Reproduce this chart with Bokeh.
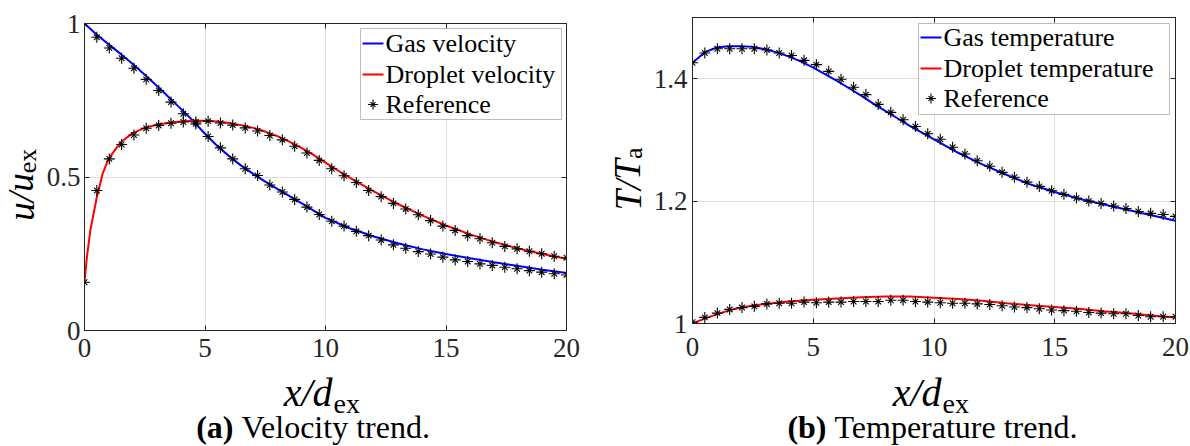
from bokeh.plotting import figure
from bokeh.models import (Range1d, FixedTicker, LinearAxis, Label, BoxAnnotation,
                          CustomLabelingPolicy)
from bokeh.layouts import row, column
from bokeh.embed import file_html
from bokeh.resources import INLINE

# ---------------- data ----------------
x_ref = [0.0, 0.51, 1.03, 1.54, 2.05, 2.56, 3.08, 3.59, 4.10, 4.62,
         5.13, 5.64, 6.15, 6.67, 7.18, 7.69, 8.21, 8.72, 9.23, 9.74,
         10.26, 10.77, 11.28, 11.79, 12.31, 12.82, 13.33, 13.85, 14.36, 14.87,
         15.38, 15.90, 16.41, 16.92, 17.44, 17.95, 18.46, 18.97, 19.49, 20.0]

u_gas_ref = [1.000, 0.955, 0.920, 0.887, 0.854, 0.818, 0.782, 0.744, 0.706, 0.673,
             0.632, 0.595, 0.559, 0.527, 0.505, 0.474, 0.451, 0.427, 0.402, 0.378,
             0.356, 0.340, 0.323, 0.309, 0.295, 0.279, 0.268, 0.257, 0.249, 0.239,
             0.230, 0.225, 0.217, 0.212, 0.206, 0.201, 0.195, 0.190, 0.185, 0.181]
u_drop_ref = [0.157, 0.456, 0.559, 0.606, 0.637, 0.659, 0.668, 0.675, 0.679, 0.679,
              0.682, 0.676, 0.669, 0.660, 0.650, 0.635, 0.621, 0.600, 0.578, 0.554,
              0.527, 0.504, 0.482, 0.456, 0.436, 0.414, 0.396, 0.377, 0.358, 0.340,
              0.326, 0.309, 0.299, 0.286, 0.274, 0.266, 0.258, 0.250, 0.242, 0.237]

x_u_gas = [0, 0.5, 1, 1.5, 2, 2.5, 3, 3.5, 4, 4.5, 5, 5.5, 6, 6.5, 7, 7.5, 8,
           9, 10, 11, 12, 13, 14, 15, 16, 17, 18, 19, 20]
u_gas = [1.000, 0.964, 0.932, 0.901, 0.868, 0.833, 0.797, 0.760, 0.722, 0.683,
         0.641, 0.602, 0.568, 0.537, 0.510, 0.485, 0.461, 0.415, 0.367, 0.333,
         0.306, 0.284, 0.265, 0.249, 0.235, 0.222, 0.210, 0.198, 0.187]

x_u_drop = [0, 0.1, 0.25, 0.5, 0.75, 1, 1.5, 2, 2.5, 3, 3.5, 4, 4.5, 5, 5.5, 6,
            6.5, 7, 7.5, 8, 8.5, 9, 9.5, 10, 10.5, 11, 12, 13, 14, 15, 16, 17,
            18, 19, 20]
u_drop = [0.157, 0.240, 0.330, 0.430, 0.510, 0.560, 0.613, 0.643, 0.660, 0.670,
          0.677, 0.681, 0.683, 0.683, 0.681, 0.676, 0.669, 0.660, 0.648, 0.633,
          0.615, 0.595, 0.572, 0.547, 0.522, 0.498, 0.453, 0.412, 0.375, 0.342,
          0.313, 0.288, 0.267, 0.249, 0.234]

T_gas_ref = [1.426, 1.442, 1.449, 1.449, 1.449, 1.449, 1.447, 1.442, 1.438, 1.430,
             1.423, 1.412, 1.399, 1.386, 1.374, 1.358, 1.345, 1.333, 1.322, 1.310,
             1.301, 1.288, 1.277, 1.266, 1.257, 1.247, 1.239, 1.231, 1.224, 1.217,
             1.211, 1.205, 1.200, 1.196, 1.192, 1.188, 1.183, 1.180, 1.178, 1.175]
T_drop_ref = [1.002, 1.010, 1.017, 1.023, 1.026, 1.028, 1.032, 1.033, 1.033, 1.035,
              1.034, 1.035, 1.035, 1.036, 1.036, 1.036, 1.038, 1.038, 1.036, 1.035,
              1.034, 1.033, 1.033, 1.032, 1.031, 1.029, 1.027, 1.026, 1.024, 1.022,
              1.021, 1.020, 1.018, 1.017, 1.016, 1.016, 1.013, 1.011, 1.011, 1.011]

x_T_gas = [0, 0.5, 1, 1.5, 2, 2.5, 3, 3.5, 4, 4.5, 5, 5.5, 6, 6.5, 7, 7.5, 8, 8.5,
           9, 10, 11, 12, 13, 14, 15, 16, 17, 18, 19, 20]
T_gas = [1.426, 1.443, 1.451, 1.453, 1.453, 1.452, 1.448, 1.443, 1.436, 1.428,
         1.418, 1.407, 1.396, 1.384, 1.372, 1.359, 1.347, 1.335, 1.323, 1.301,
         1.279, 1.260, 1.243, 1.227, 1.215, 1.204, 1.195, 1.186, 1.177, 1.168]

x_T_drop = [0, 0.5, 1, 1.5, 2, 3, 4, 5, 6, 7, 8, 9, 10, 11, 12, 13, 14, 15, 16,
            17, 18, 19, 20]
T_drop = [1.000, 1.008, 1.015, 1.021, 1.026, 1.032, 1.036, 1.039, 1.041, 1.043,
          1.044, 1.044, 1.042, 1.040, 1.037, 1.033, 1.030, 1.027, 1.024, 1.020,
          1.017, 1.013, 1.010]

x_ticks = [0, 5, 10, 15, 20]
u_ticks = [0, 0.5, 1]
u_tick_labels = ["0", "0.5", "1"]
T_ticks = [1, 1.2, 1.4]
T_tick_labels = ["1", "1.2", "1.4"]

vel_legend = ["Gas velocity", "Droplet velocity", "Reference"]
tem_legend = ["Gas temperature", "Droplet temperature", "Reference"]

# ---------------- style ----------------
AXFONT = "Liberation Serif"
TXFONT = "Times New Roman"      # resolves to Liberation Serif
INK = "#262626"
GRID = "#dedede"
BLUE = "#0000ff"
RED = "#ff0000"
X_LO, X_HI = 0, 20


def make_panel(w, h, bl, br, bt, bb, fw, fh, y_lo, y_hi, yticks, ylabels, x_standoff, y_standoff):
    p = figure(width=w, height=h, frame_width=fw, frame_height=fh,
               min_border_left=bl, min_border_right=br,
               min_border_top=bt, min_border_bottom=bb,
               x_range=Range1d(X_LO, X_HI), y_range=Range1d(y_lo, y_hi),
               output_backend="svg", toolbar_location=None)
    p.background_fill_color = "white"
    p.border_fill_color = "white"
    p.outline_line_color = INK
    p.outline_line_width = 1
    xt = FixedTicker(ticks=x_ticks)
    yt = FixedTicker(ticks=yticks)
    for ax, tk in ((p.xaxis[0], xt), (p.yaxis[0], yt)):
        ax.ticker = tk
        ax.axis_line_color = INK
        ax.major_tick_line_color = INK
        ax.major_tick_in = 5
        ax.major_tick_out = 0
        ax.minor_tick_line_color = None
        ax.major_label_text_font = AXFONT
        ax.major_label_text_font_size = "27px"
        ax.major_label_text_color = INK
    p.xaxis[0].major_label_standoff = x_standoff
    p.yaxis[0].major_label_standoff = y_standoff
    p.yaxis[0].major_label_overrides = {t: s for t, s in zip(yticks, ylabels)}
    for place, tk in (("above", xt), ("right", yt)):
        ax = LinearAxis(ticker=tk, major_label_text_font_size="0px",
                        major_label_policy=CustomLabelingPolicy(code="return []"),
                        major_label_standoff=0, major_tick_in=5, major_tick_out=0,
                        minor_tick_line_color=None, axis_line_color=INK,
                        major_tick_line_color=INK)
        p.add_layout(ax, place)
    p.xgrid.ticker = xt
    p.ygrid.ticker = yt
    p.xgrid.grid_line_color = GRID
    p.ygrid.grid_line_color = GRID
    return p


def text_fig(w, h):
    return figure(width=w, height=h, min_border=0, x_axis_type=None, y_axis_type=None,
                  x_range=Range1d(0, 1), y_range=Range1d(0, 1),
                  output_backend="svg", toolbar_location=None, outline_line_color=None)


def lab(f, x, y, text, size, style="normal", align="left", angle=0.0):
    f.add_layout(Label(x=x, y=y, x_units="screen", y_units="screen", text=text,
                       text_font=TXFONT, text_font_size=size, text_font_style=style,
                       text_color="black", text_align=align, text_baseline="middle",
                       angle=angle, angle_units="rad"))


def add_series(p, fw, fh, y_lo, y_hi, xg, yg, xd, yd, yg_ref, yd_ref, labels,
               box_l, box_r, box_t, box_b, rows):
    p.line(xg, yg, line_color=BLUE, line_width=2)
    p.line(xd, yd, line_color=RED, line_width=2)
    for yr in (yd_ref, yg_ref):
        p.scatter(x_ref, yr, marker="cross", size=11, line_color="black", line_width=1.1)
        p.scatter(x_ref, yr, marker="x", size=8, line_color="black", line_width=1.1)
    # legend (box, sample lines, sample marker, labels)
    p.add_layout(BoxAnnotation(left=box_l, right=box_r, top=box_t, bottom=box_b,
                               left_units="screen", right_units="screen",
                               top_units="screen", bottom_units="screen",
                               fill_color="white", fill_alpha=1.0,
                               line_color=INK, line_width=1))
    gx0, gx1 = box_l + 2, box_l + 23
    for yrow, col in zip(rows[:2], (BLUE, RED)):
        p.add_layout(BoxAnnotation(left=gx0, right=gx1, top=yrow + 1, bottom=yrow - 1,
                                   left_units="screen", right_units="screen",
                                   top_units="screen", bottom_units="screen",
                                   fill_color=col, fill_alpha=1.0, line_color=None))
    sx = (gx0 + gx1) / 2
    mx = X_LO + sx / fw * (X_HI - X_LO)
    my = y_lo + rows[2] / fh * (y_hi - y_lo)
    for mk, sz in (("cross", 10), ("x", 7)):
        p.scatter([mx], [my], marker=mk, size=sz, line_color="black",
                  line_width=1.1, level="overlay")
    for yrow, text in zip(rows, labels):
        lab(p, gx1 + 2, yrow, text, "26px")


ROT = 1.5708

# ---------------- left panel: velocity ----------------
p1 = make_panel(558, 366, 42, 34, 23, 36, 482, 307, 0, 1, u_ticks, u_tick_labels, 8, 4)
add_series(p1, 482, 307, 0, 1, x_u_gas, u_gas, x_u_drop, u_drop, u_gas_ref, u_drop_ref,
           vel_legend, 276, 477, 302, 211, [287, 256, 226])
yl1 = text_fig(42, 366)
lab(yl1, 20.5, 133.5, "u/u", "37px", "italic", "center", ROT)
lab(yl1, 27.2, 169.5, "ex", "26px", "normal", "center", ROT)
cap1 = text_fig(600, 80)
lab(cap1, 332, 54.5, "x/d", "40px", "italic", "right")
lab(cap1, 333, 43.5, "ex", "28px")
lab(cap1, 233, 20, "(a)", "32px", "bold", "right")
lab(cap1, 241, 20, "Velocity trend.", "32px")

# ---------------- right panel: temperature ----------------
p2 = make_panel(542, 366, 44, 15, 17, 43, 483, 306, 1, 1.5, T_ticks, T_tick_labels, 14, 5)
add_series(p2, 483, 306, 1, 1.5, x_T_gas, T_gas, x_T_drop, T_drop, T_gas_ref, T_drop_ref,
           tem_legend, 226, 477, 300, 209, [286, 255, 225])
yl2 = text_fig(48, 366)
lab(yl2, 27.5, 138.7, "T/T", "37px", "italic", "center", ROT)
lab(yl2, 33.2, 170.2, "a", "26px", "normal", "center", ROT)
cap2 = text_fig(590, 80)
lab(cap2, 341, 54.5, "x/d", "40px", "italic", "right")
lab(cap2, 342, 43.5, "ex", "28px")
lab(cap2, 226, 20, "(b)", "32px", "bold", "right")
lab(cap2, 234, 20, "Temperature trend.", "32px")

layout = row(column(row(yl1, p1), cap1), column(row(yl2, p2), cap2))
open("out.html", "w").write(file_html(layout, INLINE))
